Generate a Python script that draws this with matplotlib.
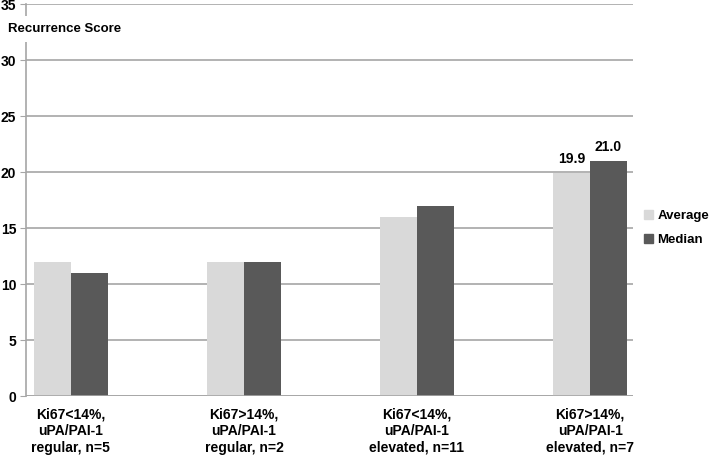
import numpy as np
import matplotlib
matplotlib.use("Agg")
import matplotlib.pyplot as plt
from matplotlib.patches import Patch

plt.rcParams['font.family'] = ['Liberation Sans', 'DejaVu Sans']
plt.rcParams['font.weight'] = 'bold'

categories = ["Ki67<14%,\nuPA/PAI-1\nregular, n=5",
              "Ki67>14%,\nuPA/PAI-1\nregular, n=2",
              "Ki67<14%,\nuPA/PAI-1\nelevated, n=11",
              "Ki67>14%,\nuPA/PAI-1\nelevated, n=7"]
average = [12.0, 12.0, 16.0, 19.9]
median = [11.0, 12.0, 17.0, 21.0]
labelled = [3]  # only last group has value labels

fig = plt.figure(figsize=(7.09, 4.55), dpi=100)
ax = fig.add_axes([26 / 709, 1 - 396 / 455, (633 - 26) / 709, 392 / 455])

x = np.arange(len(categories))
w = 0.213
ax.bar(x - w / 2, average, w, color='#d9d9d9', zorder=3)
ax.bar(x + w / 2, median, w, color='#595959', zorder=3)

for i in labelled:
    ax.text(x[i] - w / 2, average[i] + 0.6, f"{average[i]:.1f}", ha='center', va='bottom',
            fontsize=10, fontweight='bold')
    ax.text(x[i] + w / 2, median[i] + 0.6, f"{median[i]:.1f}", ha='center', va='bottom',
            fontsize=10, fontweight='bold')

ax.set_ylim(0, 35)
ax.set_yticks(range(0, 36, 5))
ax.set_xlim(-0.259, 3.248)
ax.set_xticks(x)
ax.set_xticklabels(categories, fontsize=10, linespacing=1.25, fontweight='bold')
ax.set_yticklabels([str(v) for v in range(0, 36, 5)], fontsize=10, fontweight='bold')
ax.tick_params(axis='x', length=0, pad=8)
ax.tick_params(axis='y', length=4, color='#a6a6a6', pad=3)
ax.yaxis.grid(True, color='#a6a6a6', lw=1.2, zorder=0)

for s in ['top', 'right', 'bottom']:
    ax.spines[s].set_visible(False)
ax.spines['left'].set_color('#a6a6a6')
ax.spines['left'].set_linewidth(1.2)
ax.axhline(0, color='#a6a6a6', lw=1.2, zorder=4)

fig.text(8 / 709, 1 - 29 / 455, "Recurrence Score", fontsize=9.5, fontweight='bold',
         va='center', ha='left', bbox=dict(facecolor='white', edgecolor='none', pad=5))

handles = [Patch(color='#d9d9d9', label='Average'), Patch(color='#595959', label='Median')]
fig.legend(handles=handles, loc='center left', bbox_to_anchor=(644 / 709, 1 - 228 / 455),
           frameon=False, prop={'size': 9.5, 'weight': 'bold'}, handlelength=0.7,
           handleheight=0.7, handletextpad=0.3, labelspacing=0.9, borderpad=0, borderaxespad=0)

fig.savefig("out.png", dpi=100)
